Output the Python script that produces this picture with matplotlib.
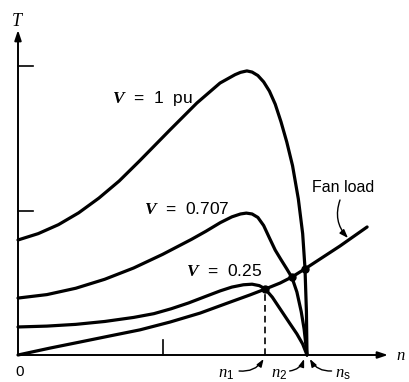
import matplotlib
matplotlib.use("Agg")
import matplotlib.pyplot as plt

plt.rcParams['mathtext.fontset'] = 'custom'
plt.rcParams['mathtext.it'] = 'Liberation Serif:italic'
plt.rcParams['mathtext.bf'] = 'Liberation Serif:italic:bold'
plt.rcParams['mathtext.rm'] = 'Liberation Sans'

# speed n (pu of synchronous speed) and torque T (pu)
n_v1 = [0.0, 0.07, 0.14, 0.21, 0.28, 0.35, 0.42, 0.526, 0.619, 0.699, 0.751, 0.77, 0.792,
        0.81, 0.83, 0.85, 0.87, 0.89, 0.91, 0.93, 0.95, 0.97, 0.985, 0.993, 0.998, 1.0]
T_v1 = [0.398, 0.420, 0.451, 0.492, 0.543, 0.602, 0.671, 0.779, 0.872, 0.941, 0.970, 0.978, 0.983,
        0.979, 0.967, 0.945, 0.913, 0.868, 0.807, 0.737, 0.655, 0.540, 0.420, 0.301, 0.150, 0.0]

n_v707 = [0.0, 0.1, 0.2, 0.3, 0.4, 0.5, 0.6, 0.65, 0.7, 0.74, 0.77, 0.79, 0.81, 0.83,
          0.85, 0.87, 0.89, 0.91, 0.93, 0.948, 0.965, 0.98, 0.99, 1.0]
T_v707 = [0.197, 0.209, 0.231, 0.262, 0.301, 0.348, 0.400, 0.428, 0.458, 0.478, 0.488, 0.491, 0.488, 0.476,
          0.448, 0.405, 0.363, 0.330, 0.298, 0.268, 0.218, 0.150, 0.090, 0.0]

n_v25 = [0.0, 0.1, 0.2, 0.3, 0.4, 0.47, 0.53, 0.59, 0.65, 0.7, 0.74, 0.78, 0.81, 0.835,
         0.855, 0.88, 0.91, 0.94, 0.965, 0.985, 1.0]
T_v25 = [0.097, 0.100, 0.106, 0.116, 0.130, 0.143, 0.160, 0.180, 0.203, 0.222, 0.235, 0.243, 0.245, 0.240,
         0.229, 0.200, 0.155, 0.110, 0.073, 0.038, 0.0]

n_fan = [0.0, 0.111, 0.215, 0.318, 0.422, 0.526, 0.630, 0.734, 0.803, 0.855, 0.907, 0.948,
         0.993, 1.114, 1.208]
T_fan = [0.0, 0.024, 0.045, 0.066, 0.087, 0.114, 0.145, 0.183, 0.208, 0.228, 0.249, 0.270,
         0.298, 0.377, 0.443]

# operating points (intersections)
n_op = [0.855, 0.948, 0.993]
T_op = [0.228, 0.270, 0.298]

x_ticks = [0.5]
y_ticks = [0.5, 1.0]

fig = plt.figure(figsize=(4.09, 3.82), dpi=100)
ax = fig.add_axes([0, 0, 1, 1])
ax.set_xlim(-18/289, 391/289)
ax.set_ylim(-27/289, 355/289)
ax.axis('off')

lw = 2.3
for n, T in [(n_v1, T_v1), (n_v707, T_v707), (n_v25, T_v25), (n_fan, T_fan)]:
    ax.plot(n, T, color='black', lw=lw, solid_capstyle='round', solid_joinstyle='round')

ax.plot(n_op, T_op, 'o', color='black', ms=5)

# dashed line at n1
ax.plot([n_op[0], n_op[0]], [0, T_op[0]], color='black', lw=1.2, ls=(0, (4, 2.5)))

# axes with arrows
ax.annotate('', xy=(0, 325/289), xytext=(0, 0),
            arrowprops=dict(arrowstyle='-|>,head_length=0.6,head_width=0.2', lw=1.4, color='black', shrinkA=0, shrinkB=0))
ax.annotate('', xy=(370/289, 0), xytext=(0, 0),
            arrowprops=dict(arrowstyle='-|>,head_length=0.6,head_width=0.2', lw=1.4, color='black', shrinkA=0, shrinkB=0))

for yt in y_ticks:
    ax.plot([0, 15/289], [yt, yt], color='black', lw=1.2)
for xt in x_ticks:
    ax.plot([xt, xt], [0, 15/289], color='black', lw=1.2)

ax.text(0, 334/289, r'$T$', fontsize=13, ha='center', va='center')
ax.text(383/289, 0, r'$n$', fontsize=12, ha='center', va='center')
ax.text(0.005, -17/289, '0', fontsize=11, ha='center', va='center', family='Liberation Sans')

ax.text(0.463, 0.889, r'$\mathbf{V}$  =  1  pu', fontsize=12.5, ha='center', va='center', family='Liberation Sans')
ax.text(0.585, 0.505, r'$\mathbf{V}$  =  0.707', fontsize=12.5, ha='center', va='center', family='Liberation Sans')
ax.text(0.713, 0.291, r'$\mathbf{V}$  =  0.25', fontsize=12.5, ha='center', va='center', family='Liberation Sans')
ax.text(1.125, 0.578, 'Fan load', fontsize=11.5, ha='center', va='center', family='Liberation Sans')
ax.annotate('', xy=(330/289, 117/289), xytext=(322/289, 155/289),
            arrowprops=dict(arrowstyle='-|>,head_length=0.5,head_width=0.18', lw=1.0, color='black',
                            connectionstyle='arc3,rad=0.3', shrinkA=0, shrinkB=0))

# bottom speed labels with arrows
ax.text(0.72, -18/289, r'$n_1$', fontsize=12, ha='center', va='center')
ax.text(0.905, -18/289, r'$n_2$', fontsize=12, ha='center', va='center')
ax.text(1.125, -18/289, r'$n_{\rm s}$', fontsize=12, ha='center', va='center')
ap = dict(arrowstyle='-|>,head_length=0.45,head_width=0.16', lw=1.0, color='black', shrinkA=0, shrinkB=0)
ax.annotate('', xy=(0.85, -4/289), xytext=(0.765, -16/289), arrowprops=dict(ap, connectionstyle='arc3,rad=0.3'))
ax.annotate('', xy=(0.99, -4/289), xytext=(0.94, -16/289), arrowprops=dict(ap, connectionstyle='arc3,rad=0.3'))
ax.annotate('', xy=(1.01, -4/289), xytext=(1.085, -16/289), arrowprops=dict(ap, connectionstyle='arc3,rad=-0.3'))

fig.savefig('out.png', dpi=100)
